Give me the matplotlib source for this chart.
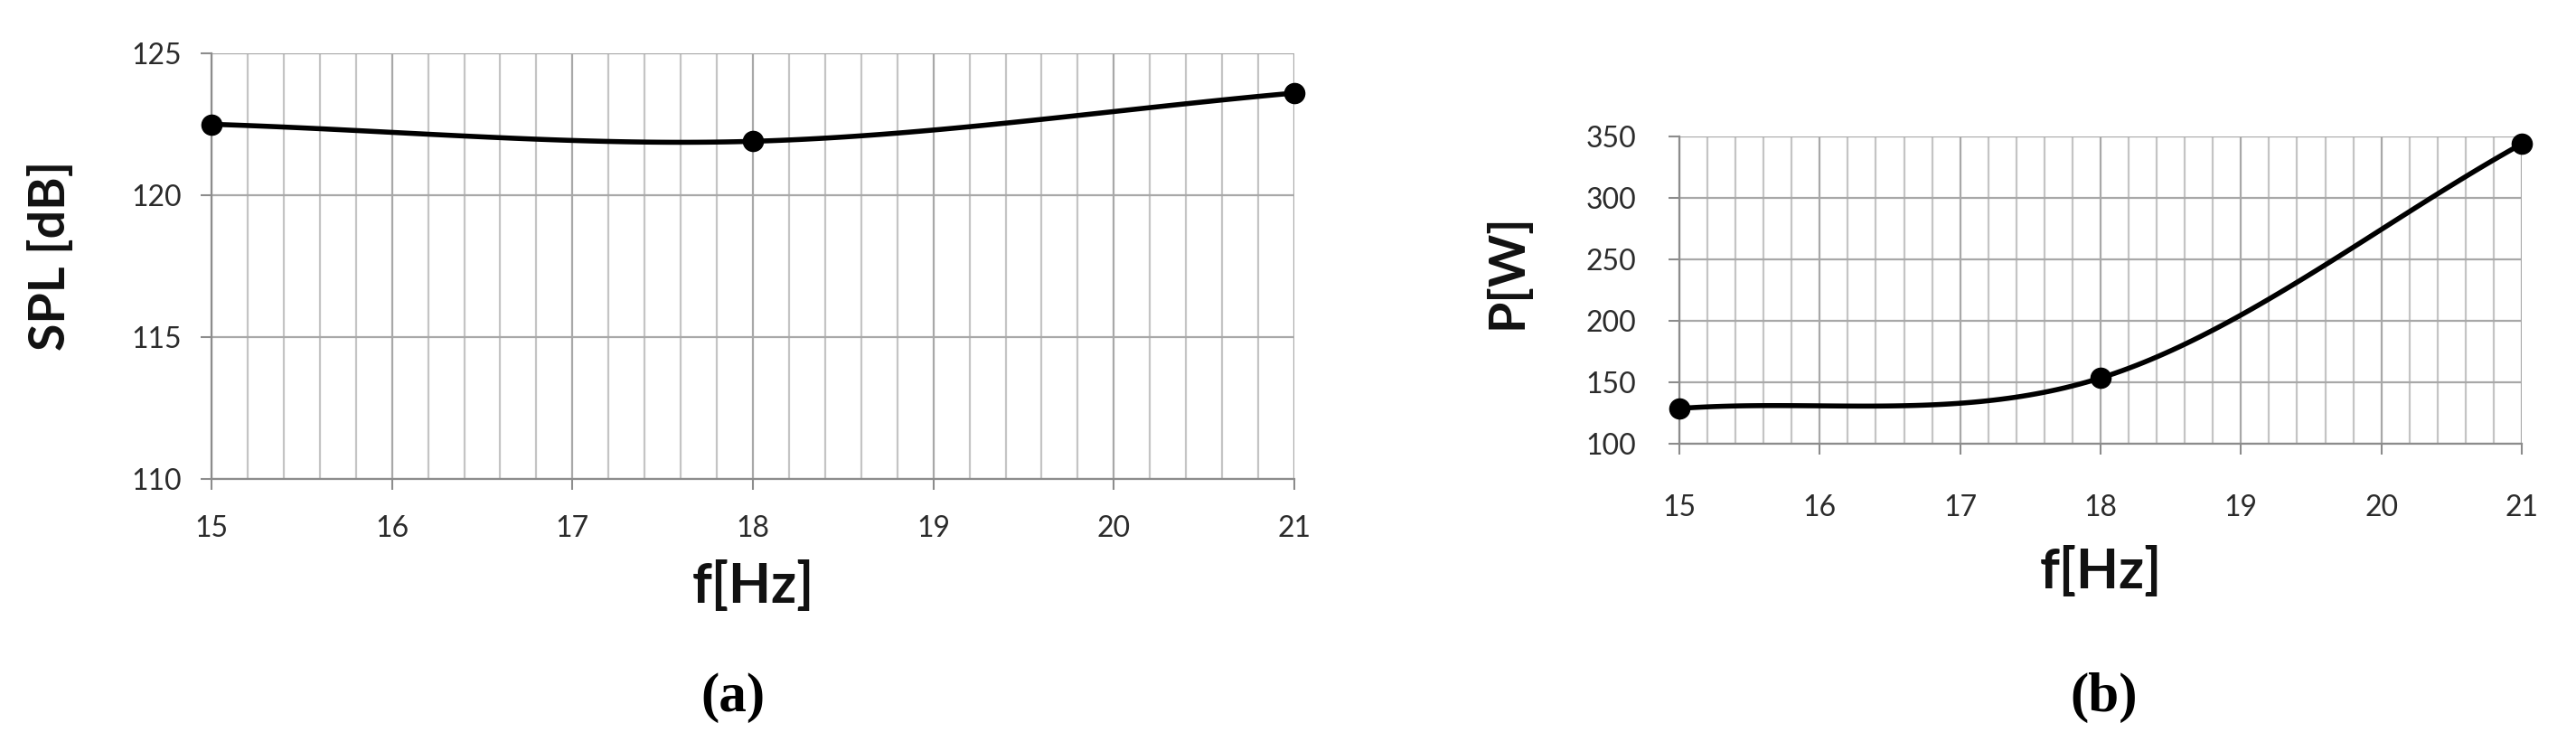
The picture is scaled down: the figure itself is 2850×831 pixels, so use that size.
import numpy as np
import matplotlib
matplotlib.use('Agg')
import matplotlib.pyplot as plt
from matplotlib.ticker import MultipleLocator

# data
freq = [15, 18, 21]
spl = [122.5, 121.9, 123.6]
power = [128.7, 153.5, 344.0]

xticks = [15, 16, 17, 18, 19, 20, 21]
spl_ticks = [110, 115, 120, 125]
power_ticks = [100, 150, 200, 250, 300, 350]

W, H = 2850, 831


def excel_smooth(x, y, xlim, ylim, wpx, hpx, n=60):
    # Excel style smoothed line: bezier through the points, done in pixel space
    sx = wpx / (xlim[1] - xlim[0])
    sy = hpx / (ylim[1] - ylim[0])
    P = np.column_stack([(np.array(x) - xlim[0]) * sx, (np.array(y) - ylim[0]) * sy])
    out = []
    t = np.linspace(0, 1, n)[:, None]
    for i in range(len(P) - 1):
        if i > 0:
            c1 = P[i] + (P[i + 1] - P[i - 1]) / 6
        else:
            c1 = P[i] + (P[i + 1] - P[i]) / 3
        if i + 2 < len(P):
            c2 = P[i + 1] - (P[i + 2] - P[i]) / 6
        else:
            c2 = P[i + 1] - (P[i + 1] - P[i]) / 3
        b = ((1 - t) ** 3) * P[i] + 3 * ((1 - t) ** 2) * t * c1 + 3 * (1 - t) * t ** 2 * c2 + t ** 3 * P[i + 1]
        out.append(b)
    B = np.vstack(out)
    return B[:, 0] / sx + xlim[0], B[:, 1] / sy + ylim[0]


fig = plt.figure(figsize=(W / 100, H / 100), dpi=100)

boxes = [(234, 530, 1198, 471), (1858, 491, 932, 340)]
ax1 = fig.add_axes([boxes[0][0] / W, 1 - boxes[0][1] / H, boxes[0][2] / W, boxes[0][3] / H])
ax2 = fig.add_axes([boxes[1][0] / W, 1 - boxes[1][1] / H, boxes[1][2] / W, boxes[1][3] / H])

tick_font = 'Lato'
setups = [
    (ax1, spl, (110, 125), spl_ticks, 'SPL [dB]', boxes[0], 20, 15, (-0.149, 0.524), -0.252),
    (ax2, power, (100, 350), power_ticks, 'P[W]', boxes[1], 32, 26, (-0.205, 0.562), -0.415),
]

for ax, vals, ylim, yt, ylab, box, xpad, ypad, ylpos, xlpos in setups:
    ax.set_xlim(15, 21)
    ax.set_ylim(*ylim)
    ax.set_xticks(xticks)
    ax.set_yticks(yt)
    ax.xaxis.set_minor_locator(MultipleLocator(0.2))
    ax.set_axisbelow(True)
    ax.grid(which='major', axis='both', color='#a8a8a8', lw=1.6)
    ax.grid(which='minor', axis='x', color='#c4c4c4', lw=1.6)
    ax.tick_params(which='minor', length=0)
    ax.tick_params(which='major', direction='out', length=8.6, width=1.5, color='#8c8c8c',
                   labelsize=23, labelcolor='#2b2b2b')
    ax.tick_params(axis='x', pad=xpad)
    ax.tick_params(axis='y', pad=ypad)
    for lab in ax.get_xticklabels() + ax.get_yticklabels():
        lab.set_fontfamily(tick_font)
    for s in ['top', 'right']:
        ax.spines[s].set_visible(False)
    for s in ['left', 'bottom']:
        ax.spines[s].set_color('#8c8c8c')
        ax.spines[s].set_linewidth(1.6)

    sx, sy = excel_smooth(freq, vals, (15, 21), ylim, box[2], box[3])
    ax.plot(sx, sy, color='black', lw=4, solid_capstyle='round', zorder=3, clip_on=False)
    ax.plot(freq, vals, 'o', color='black', ms=16, zorder=4, clip_on=False)

    ax.set_ylabel(ylab, fontsize=40, fontweight='bold', family='Lato', color='#111111',
                  va='center', ha='center')
    ax.yaxis.set_label_coords(*ylpos)
    ax.set_xlabel('f[Hz]', fontsize=44, fontweight='bold', family='Lato', color='#111111',
                  va='center', ha='center')
    ax.xaxis.set_label_coords(0.5, xlpos)

fig.text(811 / W, 1 - 772 / H, '(a)', fontsize=44, fontweight='bold',
         family='Liberation Serif', ha='center', va='center')
fig.text(2328 / W, 1 - 772 / H, '(b)', fontsize=44, fontweight='bold',
         family='Liberation Serif', ha='center', va='center')

fig.savefig('out.png', dpi=100, facecolor='white')
